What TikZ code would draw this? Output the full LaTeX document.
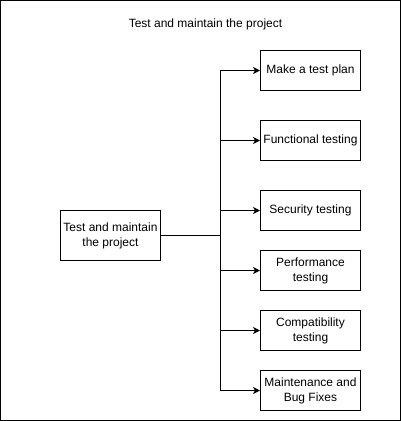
\documentclass[tikz,border=0pt]{standalone}
\usepackage{fontspec}
\setmainfont{Liberation Sans}
\usepackage{tikz}
\usetikzlibrary{positioning,arrows.meta}
\tikzset{
  flowarrow/.style={-{Stealth[length=7pt,width=7pt,inset=2pt]}, line width=1pt},
  taskbox/.style={draw, line width=1pt, fill=white, minimum width=100pt, minimum height=40pt, align=center, inner sep=1pt},
  rootbox/.style={draw, line width=1pt, fill=white, minimum width=100pt, minimum height=50pt, align=center, inner sep=1pt},
  framebox/.style={draw, line width=1pt}
}

\begin{document}
\begin{tikzpicture}[x=1pt, y=-1pt, every node/.style={font=\fontsize{12}{15}\selectfont}]
      \useasboundingbox (0,0) rectangle (401,421);
      \draw[framebox] (0.5,0.5) rectangle (400.5,420.5);
      \node (title) at (205.5,24) {Test and maintain the project};
      % root and tasks
      \node[rootbox] (root) at (110.5,235.5) {Test and maintain\\the project};
      \node[taskbox] (plan) at (310.5,70.5) {Make a test plan};
      \node[taskbox] (func) at (310.5,140.5) {Functional testing};
      \node[taskbox] (secu) at (310.5,210.5) {Security testing};
      \node[taskbox] (perf) at (310.5,270.5) {Performance\\testing};
      \node[taskbox] (comp) at (310.5,330.5) {Compatibility\\testing};
      \node[taskbox] (bugs) at (310.5,390.5) {Maintenance and\\Bug Fixes};
      \coordinate (hub) at (220.5,235.5);
      \draw[line width=1pt] (root.east) -- (hub);
      \foreach \t in {plan,func,secu,perf,comp,bugs}
        \draw[flowarrow] (hub) |- (\t.west);
    \end{tikzpicture}
\end{document}
